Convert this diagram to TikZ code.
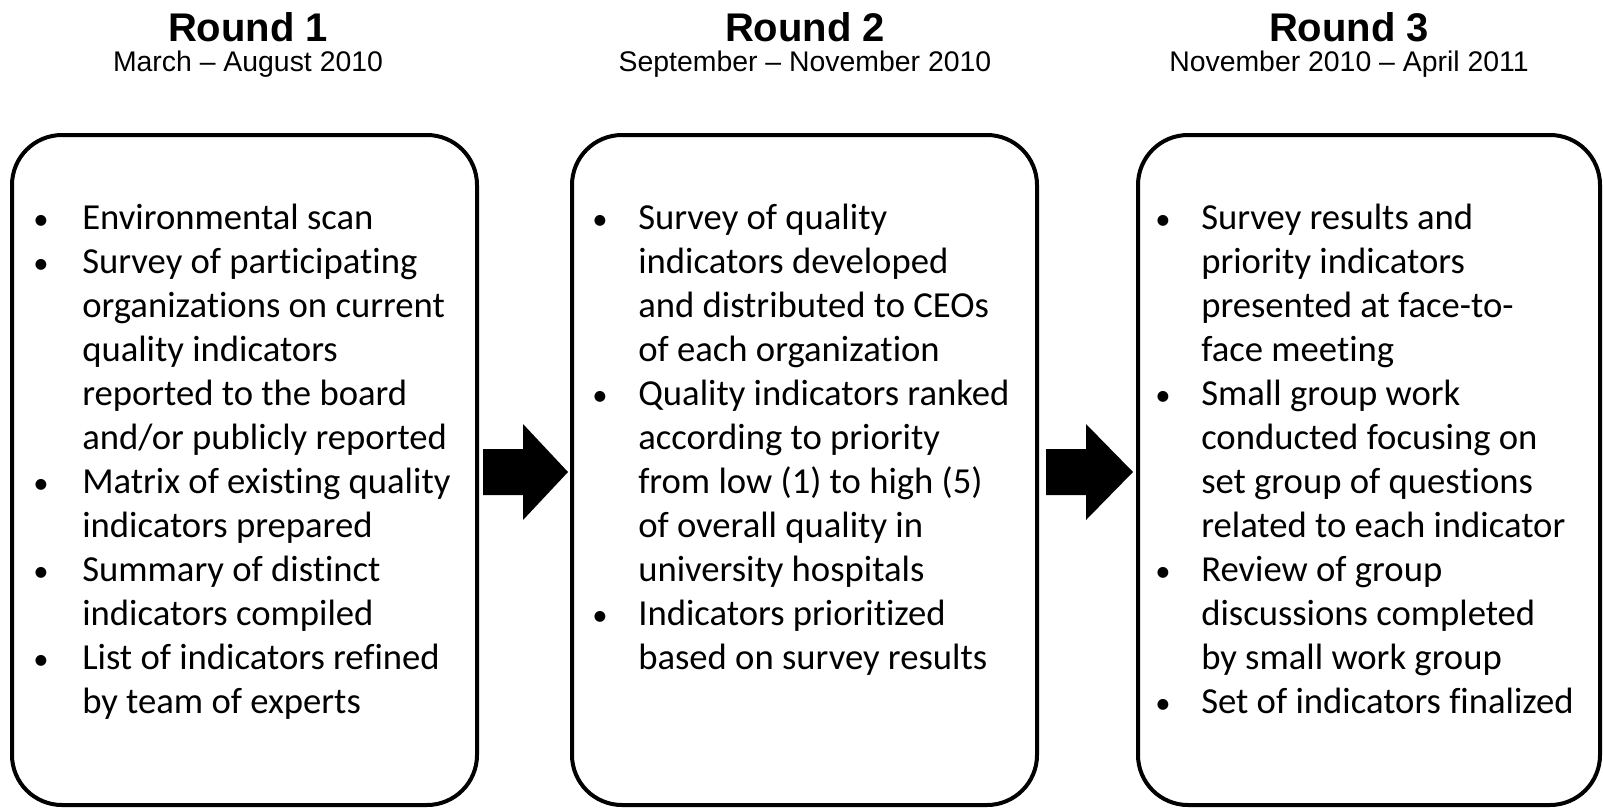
\documentclass[tikz,border=0pt]{standalone}
\usepackage{fontspec}
\setmainfont[Ligatures={NoCommon}]{Carlito}
\newfontfamily\arialfont{Liberation Sans}
\usetikzlibrary{calc}
\newcommand{\bul}{{\fontsize{23}{23}\selectfont\textbullet}}
\tikzset{
  roundbox/.style={draw, line width=3pt, rounded corners=37.5pt, minimum width=348.75pt, minimum height=502.5pt, inner sep=0pt},
  titletext/.style={font=\arialfont\bfseries\fontsize{30}{36}\selectfont, inner sep=0pt, anchor=base},
  datetext/.style={font=\arialfont\fontsize{21.3}{26}\selectfont, inner sep=0pt, anchor=base},
  bodytext/.style={font=\fontsize{27.5}{33}\selectfont, inner sep=0pt, anchor=base west},
  blockarrow/.style={fill=black}
}
\begin{document}
\begin{tikzpicture}[x=0.75pt,y=-0.75pt]
\useasboundingbox (0,0) rectangle (1603,808);
% boxes
\node[roundbox] (box1) at (244.5,470) {};
\node[roundbox] (box2) at (804.5,470) {};
\node[roundbox, minimum width=346.5pt] (box3) at (1369,470) {};
% titles
\node[titletext] (t1) at (248,41) {Round 1};
\node[datetext] (d1) at (248,71) {March – August 2010};
\node[titletext] (t2) at (805,41) {Round 2};
\node[datetext] (d2) at (805,71) {September – November 2010};
\node[titletext] (t3) at (1349,41) {Round 3};
\node[datetext] (d3) at (1349,71) {November 2010 – April 2011};
% body texts
\node[bodytext] (x1) at (33,229) {\begin{tabular}[t]{@{}p{36.75pt}@{}l@{}}
\bul & Environmental scan\\
\bul & Survey of participating\\
 & organizations on current\\
 & quality indicators\\
 & reported to the board\\
 & and/or publicly reported\\
\bul & Matrix of existing quality\\
 & indicators prepared\\
\bul & Summary of distinct\\
 & indicators compiled\\
\bul & List of indicators refined\\
 & by team of experts
\end{tabular}};
\node[bodytext] (x2) at (592,229) {\begin{tabular}[t]{@{}p{34.5pt}@{}l@{}}
\bul & Survey of quality\\
 & indicators developed\\
 & and distributed to CEOs\\
 & of each organization\\
\bul & Quality indicators ranked\\
 & according to priority\\
 & from low (1) to high (5)\\
 & of overall quality in\\
 & university hospitals\\
\bul & Indicators prioritized\\
 & based on survey results
\end{tabular}};
\node[bodytext] (x3) at (1155,229) {\begin{tabular}[t]{@{}p{34.5pt}@{}l@{}}
\bul & Survey results and\\
 & priority indicators\\
 & presented at face-to-\\
 & face meeting\\
\bul & Small group work\\
 & conducted focusing on\\
 & set group of questions\\
 & related to each indicator\\
\bul & Review of group\\
 & discussions completed\\
 & by small work group\\
\bul & Set of indicators finalized
\end{tabular}};
% block arrows
\fill[blockarrow] ($(box2.west)+(-2,2)$) -- ++(-45,-48) -- ++(0,25) -- ++(-40,0) -- ++(0,46) -- ++(40,0) -- ++(0,25) -- cycle;
\fill[blockarrow] ($(box3.west)+(-3,2)$) -- ++(-47,-48) -- ++(0,25) -- ++(-40,0) -- ++(0,46) -- ++(40,0) -- ++(0,25) -- cycle;
\end{tikzpicture}
\end{document}
